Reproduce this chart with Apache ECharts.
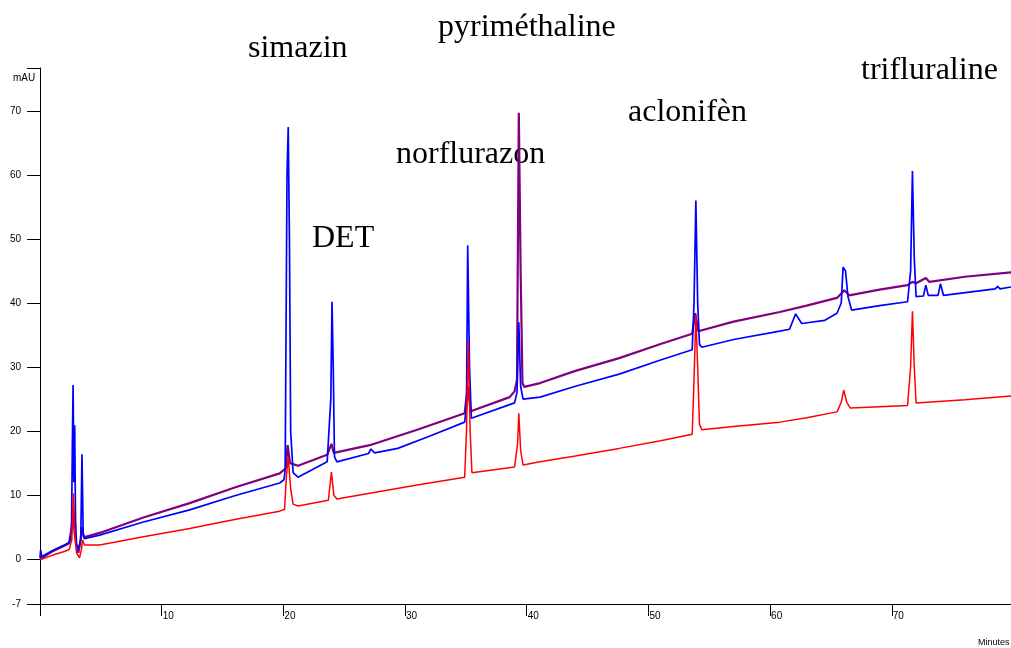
<!DOCTYPE html>
<html>
<head>
<meta charset="utf-8">
<script src="https://cdn.jsdelivr.net/npm/echarts@6/dist/echarts.min.js"></script>
<style>
  html, body { margin: 0; padding: 0; background: #ffffff; }
  #chart { width: 1011px; height: 648px; }
</style>
</head>
<body>
<div id="chart"></div>
<script>
// Retention time (min) and absorbance (mAU) for the three detector traces.
const purpleTrace = [
  [0, 0], [1, 1.2], [2, 2.1], [2.4, 2.5], [2.6, 5], [2.72, 8], [2.85, 4], [3.0, 2], [3.15, 1.0],
  [3.3, 2.5], [3.45, 5], [3.6, 3.4], [4.9, 4.1], [8.5, 6.5], [12.3, 8.75], [16, 11.2], [19.7, 13.4],
  [20.2, 14.2], [20.35, 17.8], [20.55, 15], [21.2, 14.6], [23.6, 16.3], [23.95, 18], [24.15, 16.6],
  [27.1, 17.8], [31, 20.2], [34.9, 22.8], [35.15, 27], [35.4, 23.1], [38.6, 25.3], [39.0, 26.2],
  [39.2, 28], [39.35, 69.7], [39.5, 45], [39.65, 27.5], [39.8, 26.9], [41.1, 27.5], [44, 29.4],
  [47.6, 31.4], [51, 33.6], [53.6, 35.2], [53.85, 38.4], [54.1, 35.6], [57, 37.1], [60.8, 38.6],
  [63, 39.6], [65.5, 40.8], [66.1, 42], [66.5, 41.2], [69, 42.1], [71.3, 42.8], [71.7, 43.3],
  [72.0, 43.1], [72.8, 43.9], [73.1, 43.3], [76, 44.1], [79.8, 44.8]
];
const blueTrace = [
  [0, 0.2], [0.05, 1.4], [0.15, 0.4], [1.0, 1.3], [2.0, 2.2], [2.4, 2.6], [2.5, 3.6], [2.58, 2.8],
  [2.66, 18], [2.72, 27.2], [2.78, 12], [2.85, 20.9], [2.92, 6], [3.0, 2.4], [3.15, 1.6], [3.35, 3],
  [3.45, 16.4], [3.55, 4], [3.65, 3.2], [4.9, 3.75], [8.5, 5.8], [12.3, 7.7], [16, 9.9], [19.7, 11.9],
  [20.05, 12.4], [20.15, 14], [20.3, 60], [20.4, 67.5], [20.5, 50], [20.6, 20], [20.8, 13.5],
  [21.2, 12.8], [23.6, 15.2], [23.9, 25], [24.0, 40.2], [24.1, 30], [24.2, 16], [24.4, 15.2],
  [27.0, 16.5], [27.2, 17.2], [27.5, 16.6], [29.4, 17.3], [32, 19.2], [34.9, 21.4], [35.05, 24],
  [35.15, 49], [35.3, 30], [35.45, 22], [35.6, 21.9], [39.0, 24.4], [39.2, 26], [39.35, 37],
  [39.5, 27], [39.7, 25.0], [41.1, 25.3], [44, 27], [47.6, 28.9], [51, 31.1], [53.6, 32.7],
  [53.75, 40], [53.9, 56], [54.05, 40], [54.2, 33.5], [54.4, 33.1], [57, 34.3], [60.8, 35.6],
  [61.6, 35.9], [62.1, 38.3], [62.6, 36.8], [64.5, 37.3], [65.5, 38.4], [65.85, 40], [66.0, 45.6],
  [66.2, 45], [66.4, 41], [66.7, 38.9], [69, 39.6], [71.3, 40.2], [71.55, 45], [71.7, 60.6],
  [71.85, 47], [72.0, 41], [72.6, 41.1], [72.8, 42.8], [73.0, 41.2], [73.8, 41.2], [74.0, 43],
  [74.25, 41.2], [78.5, 42.2], [78.7, 42.6], [78.9, 42.2], [79.8, 42.5]
];
const redTrace = [
  [0, -0.1], [1, 0.6], [2, 1.2], [2.4, 1.5], [2.6, 3], [2.75, 10.3], [2.85, 4], [3.0, 1],
  [3.25, 0.2], [3.4, 1.5], [3.5, 3], [3.65, 2.2], [4.9, 2.2], [8.5, 3.5], [12.3, 4.8], [16, 6.2],
  [19.7, 7.5], [20.1, 7.8], [20.25, 13], [20.4, 15.9], [20.6, 11], [20.8, 8.6], [21.2, 8.3],
  [23.7, 9.2], [23.95, 13.6], [24.15, 10], [24.4, 9.4], [27.1, 10.3], [31, 11.6], [34.9, 12.8],
  [35.05, 20], [35.2, 34.2], [35.35, 20], [35.5, 13.5], [39.0, 14.4], [39.25, 18], [39.35, 22.8],
  [39.5, 17], [39.7, 14.7], [41.1, 15.2], [44, 16.1], [47.6, 17.3], [51, 18.5], [53.6, 19.5],
  [53.75, 28], [53.9, 38], [54.05, 30], [54.2, 21], [54.4, 20.2], [57, 20.7], [60.8, 21.4],
  [63, 22.1], [65.5, 23], [65.85, 24.5], [66.05, 26.4], [66.3, 24.5], [66.6, 23.6], [69, 23.8],
  [71.3, 24.0], [71.55, 30], [71.7, 38.7], [71.85, 30], [72.0, 24.4], [76, 24.9], [79.8, 25.5]
];

// Axis ticks
const yTickValues = [-7, 0, 10, 20, 30, 40, 50, 60, 70];
const yTop = 76.7;
const xMax = 79.8;

// Compound names written above the chromatogram
const peakNames = ['simazin', 'pyriméthaline', 'norflurazon', 'DET', 'aclonifèn', 'trifluraline'];
const namePositions = [[248, 49], [438, 28], [396, 155], [312, 239], [628, 113], [861, 71]];

const chart = echarts.init(document.getElementById('chart'), null, { renderer: 'canvas' });

const traceSeries = (name, data, color, width) => ({
  name, type: 'line', data, showSymbol: false, symbol: 'none', animation: false,
  lineStyle: { color, width }, z: 2
});

const labelFont = "'Liberation Sans Narrow', 'Liberation Sans', Arial, sans-serif";

chart.setOption({
  backgroundColor: '#ffffff',
  animation: false,
  grid: { left: 40, right: 0, top: 68, bottom: 44, containLabel: false },
  xAxis: {
    type: 'value', min: 0, max: xMax, interval: 10,
    axisLine: { show: true, onZero: false, lineStyle: { color: '#000', width: 1 } },
    axisTick: { show: true, length: 12, lineStyle: { color: '#000', width: 1 } },
    axisLabel: {
      align: 'left', margin: 7, padding: [0, 0, 0, 1],
      color: '#000', fontSize: 10, fontFamily: labelFont,
      showMaxLabel: false,
      formatter: v => (v === 0 ? '' : String(v))
    },
    splitLine: { show: false }
  },
  yAxis: {
    type: 'value', min: -7, max: yTop,
    axisLine: { show: true, onZero: false, lineStyle: { color: '#000', width: 1 } },
    axisTick: { show: true, length: 13, customValues: yTickValues.concat([yTop]),
                lineStyle: { color: '#000', width: 1 } },
    axisLabel: { customValues: yTickValues, margin: 19, color: '#000', fontSize: 10,
                 fontFamily: "'Liberation Sans', Arial, sans-serif" },
    splitLine: { show: false }
  },
  series: [
    traceSeries('purple', purpleTrace, '#800080', 2.2),
    traceSeries('blue', blueTrace, '#0000ff', 1.7),
    traceSeries('red', redTrace, '#ff0000', 1.5)
  ],
  graphic: [
    { type: 'text', left: 13, top: 73,
      style: { text: 'mAU', fill: '#000', font: "10px 'Liberation Sans', Arial, sans-serif" } },
    { type: 'text', x: 978, y: 643,
      style: { text: 'Minutes', fill: '#000', verticalAlign: 'middle',
               font: "9px 'Liberation Sans Narrow', 'Liberation Sans', Arial, sans-serif" } }
  ].concat(peakNames.map((n, i) => ({
    type: 'text', x: namePositions[i][0], y: namePositions[i][1],
    style: { text: n, fill: '#000', align: 'left', verticalAlign: 'middle',
             font: "32px 'Liberation Serif', 'Times New Roman', serif" }
  })))
});
</script>
</body>
</html>
